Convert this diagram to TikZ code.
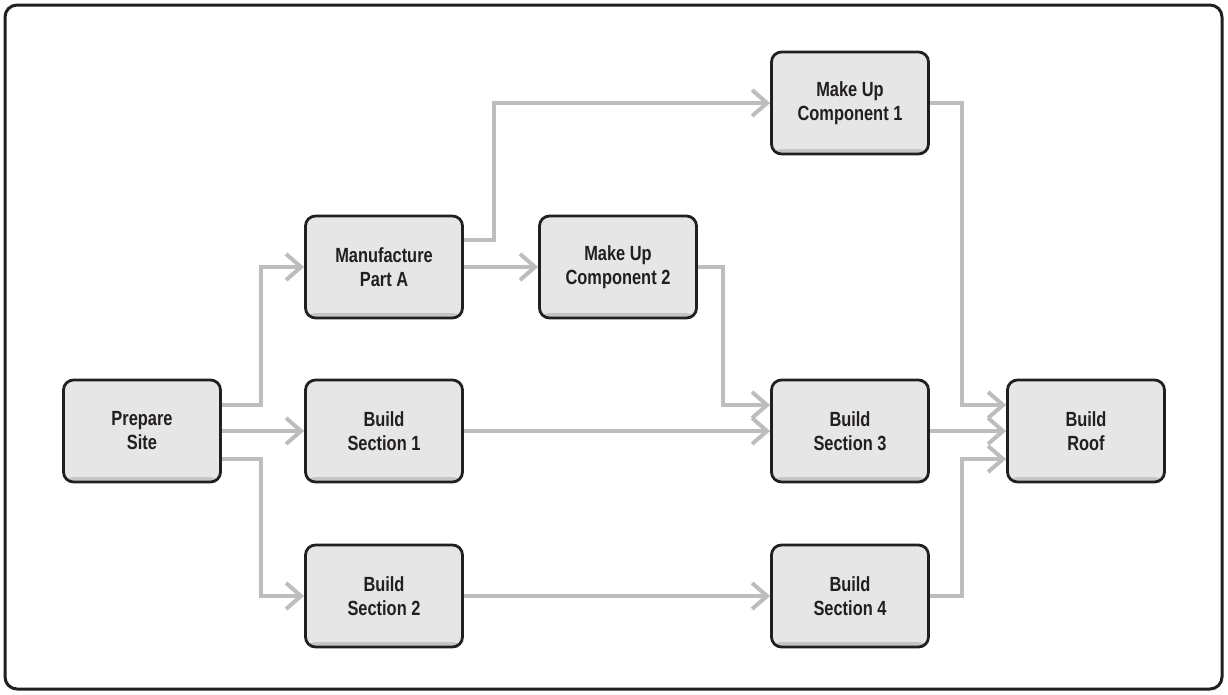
\documentclass[tikz,border=0pt]{standalone}
\usepackage{fontspec}
\setmainfont{Liberation Sans}[FakeStretch=0.8]
\usetikzlibrary{arrows.meta}
\definecolor{boxfill}{HTML}{E6E6E6}
\definecolor{boxshade}{HTML}{C4C4C4}
\definecolor{ink}{HTML}{231F20}
\definecolor{wire}{HTML}{BDBDBD}

\begin{document}
\begin{tikzpicture}[x=1pt,y=-1pt,
  task/.style={draw=ink, line width=2.8pt, fill=boxfill, rounded corners=10pt,
    minimum width=157pt, minimum height=102pt, inner sep=0pt, align=center,
    text=ink, font=\fontsize{20.5}{24}\selectfont\bfseries,
    path picture={\fill[boxshade] (path picture bounding box.south west)
      rectangle ([yshift=5pt]path picture bounding box.south east);}},
  conn/.style={draw=wire, line width=4pt,
    -{Straight Barb[length=15pt,width=26pt,line width=4pt]}}
]
\useasboundingbox (0,0) rectangle (1228,694);
\draw[ink, line width=3pt, rounded corners=12pt] (5,5) rectangle (1222,689);

% tasks
\node[task] (ps)  at (142,431)  {Prepare\\Site};
\node[task] (mpa) at (384,267)  {Manufacture\\Part A};
\node[task] (bs1) at (384,431)  {Build\\Section 1};
\node[task] (bs2) at (384,596)  {Build\\Section 2};
\node[task] (mc2) at (618,267)  {Make Up\\Component 2};
\node[task] (mc1) at (850,103)  {Make Up\\Component 1};
\node[task] (bs3) at (850,431)  {Build\\Section 3};
\node[task] (bs4) at (850,596)  {Build\\Section 4};
\node[task] (rf)  at (1086,431) {Build\\Roof};

% dependencies
\draw[conn] ([yshift=26pt]ps.east) -- ++(39,0) |- (mpa.west);
\draw[conn] (ps.east) -- (bs1.west);
\draw[conn] ([yshift=-28pt]ps.east) -- ++(39,0) |- (bs2.west);
\draw[conn] ([yshift=27pt]mpa.east) -- ++(30,0) |- (mc1.west);
\draw[conn] (mpa.east) -- (mc2.west);
\draw[conn] (mc2.east) -- ++(25,0) |- ([yshift=26pt]bs3.west);
\draw[conn] (bs1.east) -- (bs3.west);
\draw[conn] (bs2.east) -- (bs4.west);
\draw[conn] (mc1.east) -- ++(32,0) |- ([yshift=26pt]rf.west);
\draw[conn] (bs3.east) -- (rf.west);
\draw[conn] (bs4.east) -- ++(32,0) |- ([yshift=-28pt]rf.west);
\end{tikzpicture}
\end{document}
